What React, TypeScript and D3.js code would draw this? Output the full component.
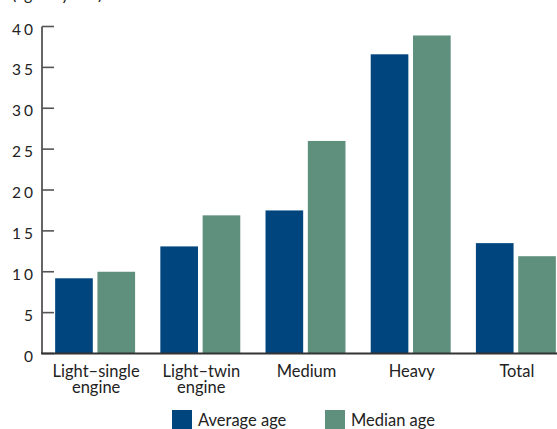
import React from "react";
import * as d3 from "d3";

// Aircraft age by category, in years
const categories = ["Light–single engine", "Light–twin engine", "Medium", "Heavy", "Total"];
const categoryLines = [["Light–single", "engine"], ["Light–twin", "engine"], ["Medium"], ["Heavy"], ["Total"]];
const averageAge = [9.2, 13.1, 17.5, 36.6, 13.5];
const medianAge = [10.0, 16.9, 26.0, 38.9, 11.9];
const seriesNames = ["Average age", "Median age"];
const yTicks = [0, 5, 10, 15, 20, 25, 30, 35, 40];

const WIDTH = 557;
const HEIGHT = 429;
const COLORS = ["#00457e", "#5f8f7d"];
const FONT = "Lato, 'Open Sans', sans-serif";

export default function App() {
  const x0 = d3
    .scaleBand<string>()
    .domain(categories)
    .range([42, 569])
    .paddingInner(0.24)
    .paddingOuter(0.125);

  const x1 = d3
    .scaleBand<string>()
    .domain(seriesNames)
    .range([0, x0.bandwidth()])
    .paddingInner(0.11);

  const y = d3.scaleLinear().domain([0, 40]).range([353.5, 26.5]);

  const color = d3.scaleOrdinal<string, string>().domain(seriesNames).range(COLORS);

  const values = [averageAge, medianAge];

  return (
    <svg
      width={WIDTH}
      height={HEIGHT}
      style={{ position: "absolute", left: 0, top: 0, background: "#ffffff" }}
      fontFamily={FONT}
    >
      {/* axis caption, mostly above the frame */}
      <text x={12} y={-0.5} fontSize={16} fill="#222">
        (age in years)
      </text>

      {/* bars */}
      {categories.map((c, i) => (
        <g key={c} transform={`translate(${x0(c)},0)`}>
          {seriesNames.map((s, j) => (
            <rect
              key={s}
              x={x1(s)}
              y={y(values[j][i])}
              width={x1.bandwidth()}
              height={y(0) - y(values[j][i])}
              fill={color(s)}
            />
          ))}
        </g>
      ))}

      {/* y axis */}
      <line x1={42} x2={42} y1={y(40)} y2={y(0)} stroke="#555" strokeWidth={1.8} />
      {yTicks.map((t) => (
        <g key={t}>
          <line x1={42} x2={54} y1={y(t)} y2={y(t)} stroke="#555" strokeWidth={1.6} />
          <text
            x={36}
            y={y(t) + 8}
            textAnchor="end"
            fontSize={15.5}
            letterSpacing={3}
            fill="#222"
          >
            {t}
          </text>
        </g>
      ))}

      {/* x axis */}
      <line x1={41} x2={WIDTH} y1={y(0)} y2={y(0)} stroke="#333" strokeWidth={1.8} />
      {categories.map((c, i) => {
        const cx = (x0(c) as number) + x0.bandwidth() / 2 + 1;
        return (
          <text key={c} x={cx} y={377} textAnchor="middle" fontSize={16.5} fill="#222">
            {categoryLines[i].map((line, k) => (
              <tspan key={k} x={cx} dy={k === 0 ? 0 : 16}>
                {line}
              </tspan>
            ))}
          </text>
        );
      })}

      {/* legend */}
      {seriesNames.map((s, j) => {
        const lx = j === 0 ? 172 : 325;
        return (
          <g key={s}>
            <rect x={lx} y={410} width={20} height={20} fill={color(s)} />
            <text x={lx + 26} y={425.5} fontSize={16.5} fill="#222">
              {s}
            </text>
          </g>
        );
      })}
    </svg>
  );
}
